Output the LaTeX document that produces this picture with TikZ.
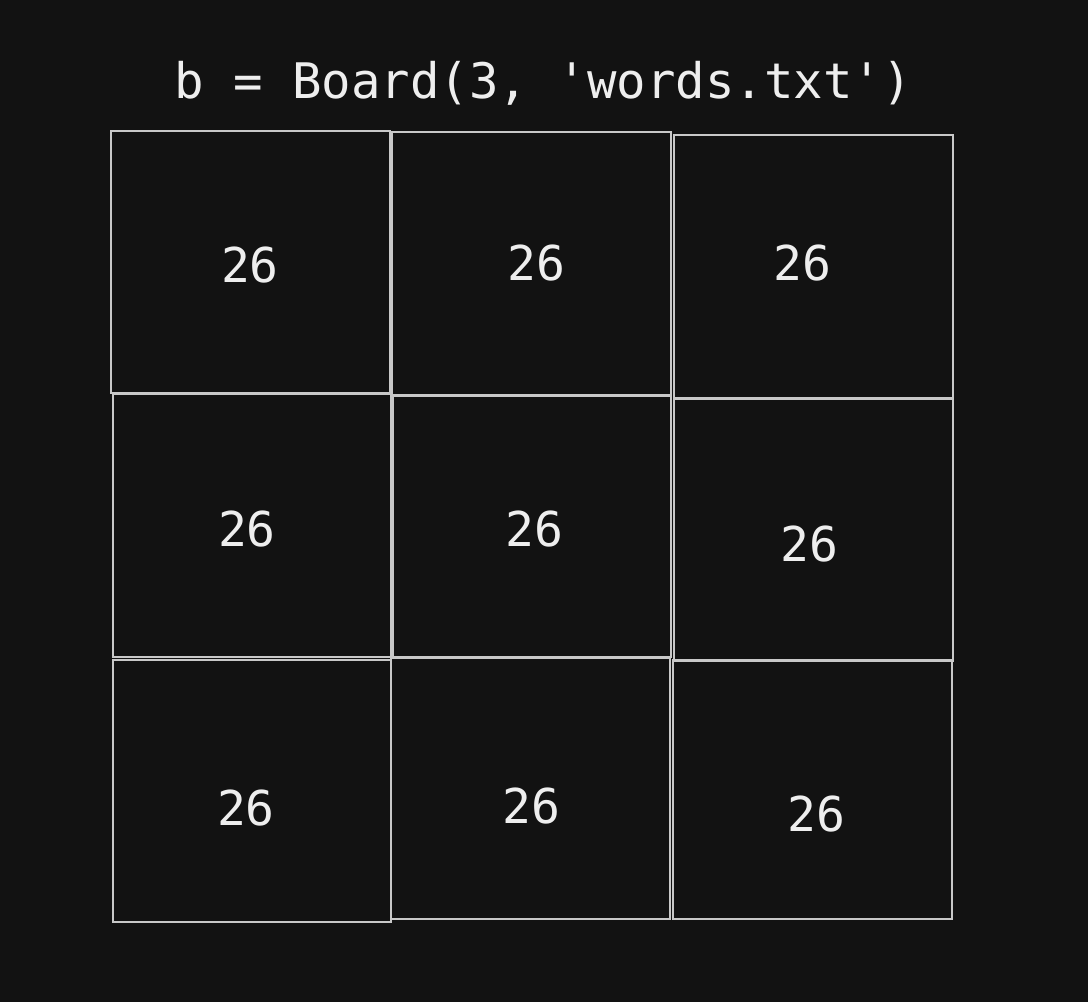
\documentclass[tikz,border=0pt]{standalone}
\usepackage{fontspec}
\setmonofont{DejaVu Sans Mono}
\definecolor{bg}{HTML}{121212}
\definecolor{fg}{HTML}{EEEEEE}
\definecolor{ln}{HTML}{C8C8C8}
\begin{document}
\begin{tikzpicture}[x=1pt,y=-1pt,
  cell/.style={draw=ln,line width=1.2pt},
  num/.style={text=fg,font=\fontsize{48}{48}\selectfont\ttfamily,inner sep=0pt,anchor=center},
  title/.style={text=fg,font=\fontsize{49}{49}\selectfont\ttfamily,inner sep=0pt}]
\fill[bg] (0,0) rectangle (1088,1002);
\useasboundingbox (0,0) rectangle (1088,1002);
\node[title] (t) at (543,83) {b = Board(3, 'words.txt')};
% row 1
\draw[cell] (111,131) rectangle (390,393);
\draw[cell] (392,132) rectangle (671,395);
\draw[cell] (674,135) rectangle (953,398);
% row 2
\draw[cell] (113,394) rectangle (391,657);
\draw[cell] (393,396) rectangle (671,657);
\draw[cell] (674,399) rectangle (953,661);
% row 3
\draw[cell] (113,660) rectangle (391,922);
\draw[cell] (391,658) rectangle (670,919);
\draw[cell] (673,660) rectangle (952,919);
\node[num] (n11) at (250,265) {26};
\node[num] (n12) at (536,263) {26};
\node[num] (n13) at (802,263) {26};
\node[num] (n21) at (247,529) {26};
\node[num] (n22) at (534,529) {26};
\node[num] (n23) at (809,544) {26};
\node[num] (n31) at (246,808) {26};
\node[num] (n32) at (531,806) {26};
\node[num] (n33) at (816,814) {26};
\end{tikzpicture}
\end{document}
